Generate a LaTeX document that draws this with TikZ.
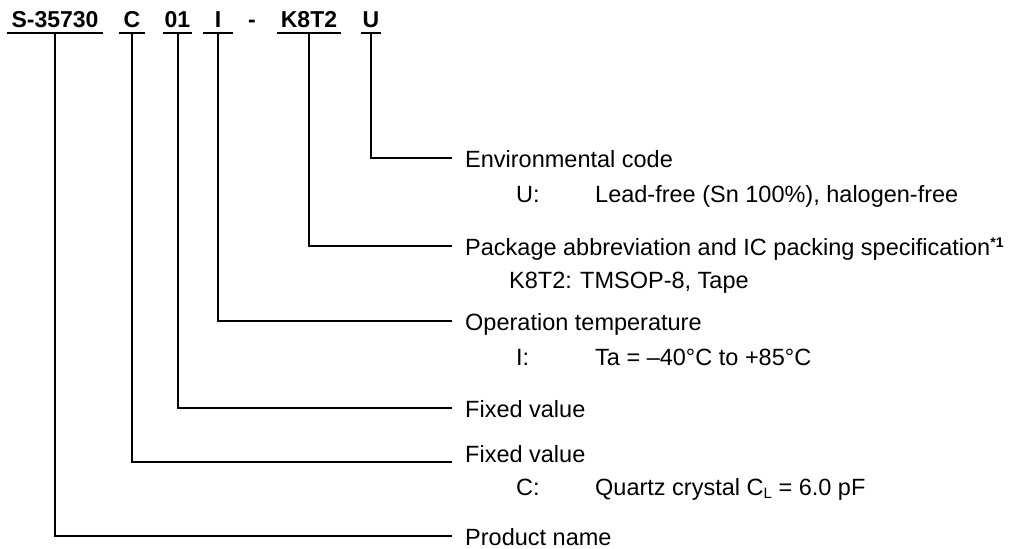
\documentclass[tikz,border=0pt]{standalone}
\usepackage{fontspec}
\setmainfont{Liberation Sans}
\usepackage{tikz}

\tikzset{
  part/.style={font=\fontsize{23}{28}\selectfont\bfseries, anchor=base, inner sep=0pt, text height=17pt, text depth=6pt},
  lbl/.style={font=\fontsize{23.5}{28}\selectfont, anchor=west, inner sep=0pt, text height=18pt, text depth=0pt},
  detail/.style={font=\fontsize{23.5}{28}\selectfont, anchor=base west, inner sep=0pt},
  lead/.style={line width=2pt, shorten >=13pt}
}

\begin{document}
\begin{tikzpicture}[x=1pt,y=-1pt]
\useasboundingbox (0,0) rectangle (1018,549);
% part number
\node[part, minimum width=96pt] (partS) at (55,27) {S-35730};
\node[part, minimum width=26pt] (partC) at (132,27) {C};
\node[part, minimum width=29pt] (part01) at (177.5,27) {01};
\node[part, minimum width=29pt] (partI) at (218,27) {I};
\node[part] (partDash) at (252,27) {-};
\node[part, minimum width=63pt] (partK) at (309,27) {K8T2};
\node[part, minimum width=20pt] (partU) at (371,27) {U};
\foreach \p in {partS, partC, part01, partI, partK, partU}
  \draw[line width=2pt] (\p.south west) -- (\p.south east);
% labels
\node[lbl] (envLbl) at (465,158) {Environmental code};
\node[detail] (uKey) at (516,202) {U:};
\node[detail] (uVal) at (595,202) {Lead-free (Sn 100\%), halogen-free};
\node[lbl] (pkgLbl) at (465,246) {Package abbreviation and IC packing specification\raisebox{8pt}{\fontsize{14}{14}\selectfont\bfseries *1}};
\node[detail] (kKey) at (509,288) {K8T2:};
\node[detail] (kVal) at (580,288) {TMSOP-8, Tape};
\node[lbl] (tempLbl) at (465,321) {Operation temperature};
\node[detail] (iKey) at (516,365) {I:};
\node[detail] (iVal) at (595,365) {Ta = –40°C to +85°C};
\node[lbl] (fix01Lbl) at (465,408) {Fixed value};
\node[lbl, anchor=base west] (fixCLbl) at (465,462) {Fixed value};
\node[detail] (cKey) at (516,495) {C:};
\node[detail] (cVal) at (595,495) {Quartz crystal C\raisebox{-3pt}{\fontsize{15}{15}\selectfont L} = 6.0 pF};
\node[lbl] (prodLbl) at (465,536) {Product name};
% leaders
\draw[lead] (partU.south) |- (envLbl.west);
\draw[lead] (partK.south) |- (pkgLbl.west);
\draw[lead] (partI.south) |- (tempLbl.west);
\draw[lead] (part01.south) |- (fix01Lbl.west);
\draw[lead] (partC.south) |- (fixCLbl.base west);
\draw[lead] (partS.south) |- (prodLbl.west);
\end{tikzpicture}
\end{document}
